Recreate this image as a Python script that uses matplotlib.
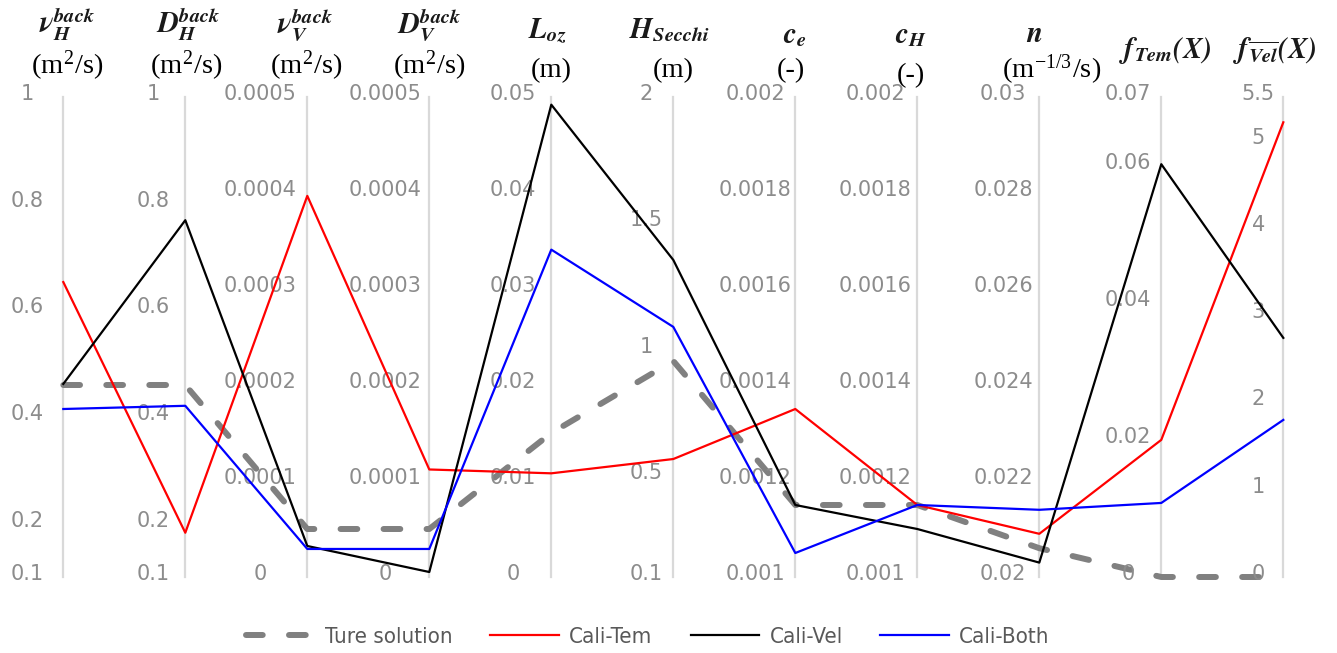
import numpy as np
import matplotlib
matplotlib.use('Agg')
import matplotlib.pyplot as plt

plt.rcParams['mathtext.fontset'] = 'stix'

# parameter axes: header, unit, bottom/top of the scale, tick labels
headers = [r'$\mathbfit{\nu}_{\mathbfit{H}}^{\mathbfit{back}}$',
           r'$\mathbfit{D}_{\mathbfit{H}}^{\mathbfit{back}}$',
           r'$\mathbfit{\nu}_{\mathbfit{V}}^{\mathbfit{back}}$',
           r'$\mathbfit{D}_{\mathbfit{V}}^{\mathbfit{back}}$',
           r'$\mathbfit{L}_{\mathbfit{oz}}$',
           r'$\mathbfit{H}_{\mathbfit{Secchi}}$',
           r'$\mathbfit{c}_{\mathbfit{e}}$',
           r'$\mathbfit{c}_{\mathbfit{H}}$',
           r'$\mathbfit{n}$',
           r'$\mathbfit{f}_{\mathbfit{Tem}}\mathbfit{(X)}$',
           r'$\mathbfit{f}_{\overline{\mathbfit{Vel}}}\mathbfit{(X)}$']
units = [r'(m$^{\mathregular{2}}$/s)', r'(m$^{\mathregular{2}}$/s)',
         r'(m$^{\mathregular{2}}$/s)', r'(m$^{\mathregular{2}}$/s)',
         '(m)', '(m)', '(-)', '(-)', r'(m$^{\mathregular{-1/3}}$/s)', '', '']
axis_lo = [0.1, 0.1, 0, 0, 0, 0.1, 0.001, 0.001, 0.02, 0, 0]
axis_hi = [1, 1, 0.0005, 0.0005, 0.05, 2, 0.002, 0.002, 0.03, 0.07, 5.5]
ticks = [
    ['0.1', '0.2', '0.4', '0.6', '0.8', '1'],
    ['0.1', '0.2', '0.4', '0.6', '0.8', '1'],
    ['0', '0.0001', '0.0002', '0.0003', '0.0004', '0.0005'],
    ['0', '0.0001', '0.0002', '0.0003', '0.0004', '0.0005'],
    ['0', '0.01', '0.02', '0.03', '0.04', '0.05'],
    ['0.1', '0.5', '1', '1.5', '2'],
    ['0.001', '0.0012', '0.0014', '0.0016', '0.0018', '0.002'],
    ['0.001', '0.0012', '0.0014', '0.0016', '0.0018', '0.002'],
    ['0.02', '0.022', '0.024', '0.026', '0.028', '0.03'],
    ['0', '0.02', '0.04', '0.06', '0.07'],
    ['0', '1', '2', '3', '4', '5', '5.5'],
]

# parameter values of each run
true_solution = [0.46, 0.46, 0.00005, 0.00005, 0.015, 0.955, 0.00115, 0.00115, 0.0206, 0, 0]
cali_tem = [0.653, 0.183, 0.000397, 0.000112, 0.0108, 0.567, 0.00135, 0.00115, 0.0209, 0.02, 5.21]
cali_vel = [0.462, 0.769, 0.0000323, 0.0000052, 0.0492, 1.355, 0.00115, 0.0011, 0.0203, 0.0602, 2.74]
cali_both = [0.415, 0.421, 0.0000292, 0.0000292, 0.0341, 1.09, 0.00105, 0.00115, 0.0214, 0.0108, 1.8]

# layout in pixels
W, H = 1337, 653
x0, dx = 63.3, 122.0          # first axis line and spacing
y_top, y_bot = 97, 577        # top and bottom of the axis lines
label_dx = [-36, -32, -47, -44, -38, -27, -40, -42, -36, -33, -25]
head_dx = [4, 3, -2, 0, -4, -4, 0, -6, -5, 4, -8]
head_y = [33, 33, 33, 33, 38, 38, 43, 43, 42, 58, 58]
unit_dx = [4, 1, -1, 0, 0, 0, -4, -6, 12, 0, 0]
unit_y = [74, 74, 74, 74, 77, 77, 77, 82, 78, 0, 0]

fig = plt.figure(figsize=(W / 100, H / 100), dpi=100)
ax = fig.add_axes([0, 0, 1, 1])
span = y_bot - y_top
ax.set_xlim(-x0 / dx, (W - x0) / dx)
ax.set_ylim(-(H - y_bot) / span, y_bot / span)
ax.axis('off')


def norm(values):
    v = np.asarray(values, dtype=float)
    lo = np.asarray(axis_lo, dtype=float)
    hi = np.asarray(axis_hi, dtype=float)
    return (v - lo) / (hi - lo)


def fy(py):
    # pixel row from the top -> axis fraction
    return (y_bot - py) / span


n_axes = len(headers)
xs = np.arange(n_axes)

for i in range(n_axes):
    ax.plot([i, i], [0, 1], color='#d9d9d9', lw=1.6, zorder=1)
    lo, hi = axis_lo[i], axis_hi[i]
    for t in ticks[i]:
        f = (float(t) - lo) / (hi - lo)
        ax.text(i + label_dx[i] / dx, f + 3 / span, t, ha='center', va='center',
                fontsize=15, color='#8c8c8c', family='DejaVu Sans')
    ax.text(i + head_dx[i] / dx, fy(head_y[i]), headers[i], ha='center', va='baseline',
            fontsize=21, color='#1a1a1a')
    if units[i]:
        ax.text(i + unit_dx[i] / dx, fy(unit_y[i]), units[i], ha='center', va='baseline',
                fontsize=20.5, color='black', family='Liberation Serif')

ax.plot(xs, norm(true_solution), color='#808080', lw=4.3, ls=(0, (2.8, 4.4)),
        dash_capstyle='round', label='Ture solution', zorder=2)
ax.plot(xs, norm(cali_tem), color='#ff0000', lw=1.6, label='Cali-Tem', zorder=3)
ax.plot(xs, norm(cali_vel), color='#000000', lw=1.6, label='Cali-Vel', zorder=4)
ax.plot(xs, norm(cali_both), color='#0000ff', lw=1.6, label='Cali-Both', zorder=5)

leg = fig.legend(loc='center', bbox_to_anchor=(648 / W, 1 - 637 / H), ncol=4,
                 frameon=False, handlelength=3.1, handletextpad=0.45, columnspacing=1.7,
                 prop={'family': 'DejaVu Sans', 'stretch': 'condensed', 'size': 16})
for txt in leg.get_texts():
    txt.set_color('#595959')

fig.savefig('out.png', dpi=100)
